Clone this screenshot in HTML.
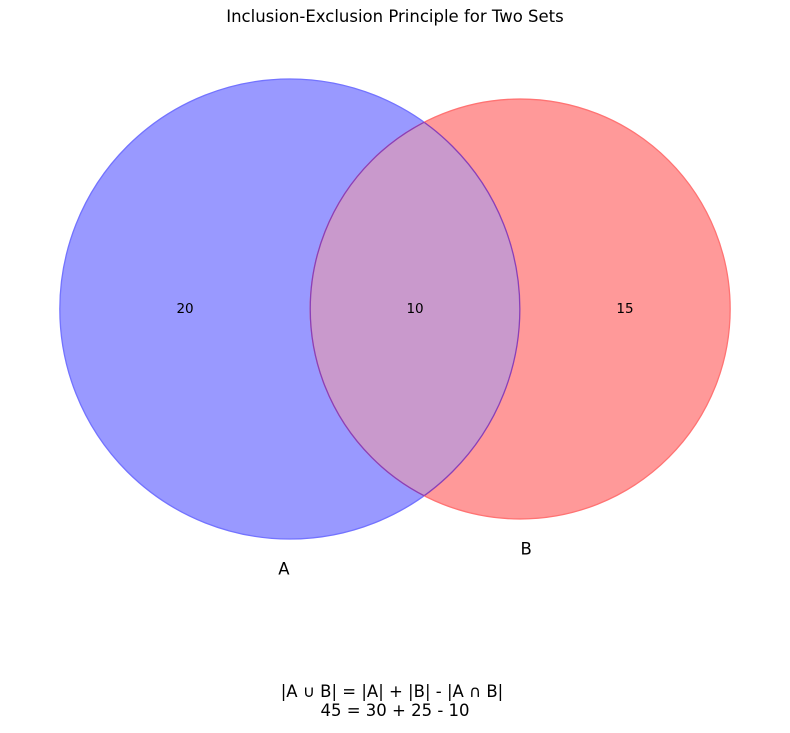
<!DOCTYPE html>
<html><head><meta charset="utf-8"><style>
body{margin:0;background:#fff;}
svg text{font-family:"DejaVu Sans","Liberation Sans",sans-serif;}
</style></head><body>
<svg id="chart" width="790" height="728" viewBox="0 0 790 728" xmlns="http://www.w3.org/2000/svg">
<defs><clipPath id="clipA"><circle id="clipAc" cx="0" cy="0" r="0"/></clipPath>
<clipPath id="clipB"><circle id="clipBc" cx="0" cy="0" r="0"/></clipPath></defs>
<text x="395" y="22" text-anchor="middle" font-size="16.5" fill="#000">Inclusion-Exclusion Principle for Two Sets</text>
<g id="circles"></g>
<g id="labels"></g>
<text x="392" y="697" text-anchor="middle" font-size="16.5" fill="#000">|A ∪ B| = |A| + |B| - |A ∩ B|</text>
<text x="395" y="716" text-anchor="middle" font-size="16.5" fill="#000">45 = 30 + 25 - 10</text>
</svg>
<script>
const setNames = ["A", "B"];
const regionValues = [20, 15, 10]; // A only, B only, A∩B
const setColors = ["#9999ff", "#ff9999"];
const edgeColors = ["#7373ff", "#ff7373"];
const interColor = "#c999cc";

const NS = "http://www.w3.org/2000/svg";
const cx0 = 395, cy = 309, k = 230 / Math.sqrt(30);
const sizeA = regionValues[0] + regionValues[2];
const sizeB = regionValues[1] + regionValues[2];
const rA = k * Math.sqrt(sizeA), rB = k * Math.sqrt(sizeB);
function lens(d, r1, r2) {
  if (d >= r1 + r2) return 0;
  if (d <= Math.abs(r1 - r2)) return Math.PI * Math.min(r1, r2) ** 2;
  const a = r1 * r1 * Math.acos((d * d + r1 * r1 - r2 * r2) / (2 * d * r1));
  const b = r2 * r2 * Math.acos((d * d + r2 * r2 - r1 * r1) / (2 * d * r2));
  const c = 0.5 * Math.sqrt((-d + r1 + r2) * (d + r1 - r2) * (d - r1 + r2) * (d + r1 + r2));
  return a + b - c;
}
const target = Math.PI * k * k * regionValues[2];
let lo = Math.abs(rA - rB), hi = rA + rB;
for (let i = 0; i < 60; i++) { const m = (lo + hi) / 2; if (lens(m, rA, rB) > target) lo = m; else hi = m; }
const d = (lo + hi) / 2;
const left = cx0 - (rA + d + rB) / 2;
const xA = left + rA, xB = xA + d;

const clipC = document.getElementById("clipAc");
clipC.setAttribute("cx", xA); clipC.setAttribute("cy", cy); clipC.setAttribute("r", rA);
const clipD = document.getElementById("clipBc");
clipD.setAttribute("cx", xB); clipD.setAttribute("cy", cy); clipD.setAttribute("r", rB);

const g = document.getElementById("circles");
function circ(x, r, fill, stroke, name, clip) {
  const c = document.createElementNS(NS, "circle");
  c.setAttribute("cx", x); c.setAttribute("cy", cy); c.setAttribute("r", r);
  c.setAttribute("fill", fill);
  c.setAttribute("stroke", stroke); c.setAttribute("stroke-width", 1.3);
  if (clip) c.setAttribute("clip-path", clip);
  
  
  g.appendChild(c);
}
circ(xA, rA, setColors[0], edgeColors[0], "circle-a", null);
circ(xB, rB, setColors[1], edgeColors[1], "circle-b", null);
circ(xB, rB, interColor, "#8a3fb8", "intersection-region", "url(#clipA)");
circ(xA, rA, "none", "#8a3fb8", "intersection-edge-a", "url(#clipB)");

const lg = document.getElementById("labels");
function txt(x, y, s, size, name) {
  const t = document.createElementNS(NS, "text");
  t.setAttribute("x", x); t.setAttribute("y", y); t.setAttribute("text-anchor", "middle");
  t.setAttribute("font-size", size); t.setAttribute("dominant-baseline", "central");
  t.textContent = s;
  
  
  lg.appendChild(t);
}
const xi = (xB - rB + xA + rA) / 2;
txt((xA - rA + xB - rB) / 2, cy, regionValues[0], 13.5, "region-a-only-label");
txt((xA + rA + xB + rB) / 2, cy, regionValues[1], 13.5, "region-b-only-label");
txt(xi, cy, regionValues[2], 13.5, "region-intersection-label");
txt(xA - 6, cy + rA + 30, setNames[0], 16.5, "set-a-label");
txt(xB + 6, cy + rB + 30, setNames[1], 16.5, "set-b-label");
</script>
</body></html>
